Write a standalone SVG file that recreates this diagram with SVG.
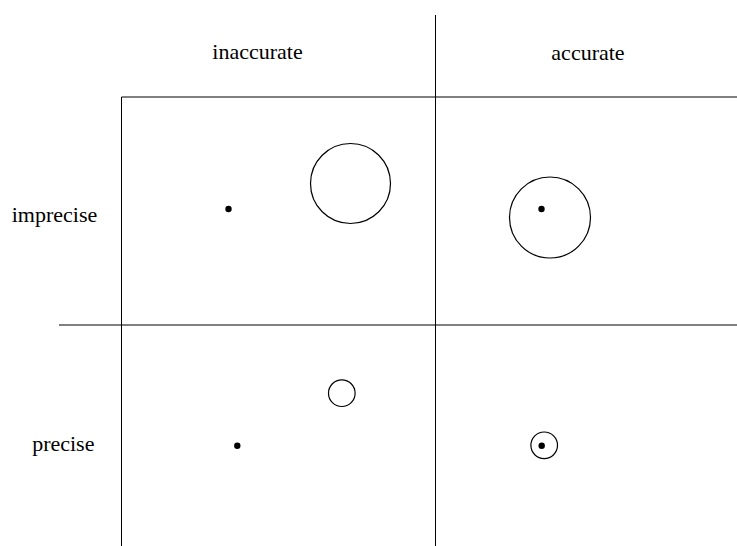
<svg xmlns="http://www.w3.org/2000/svg" width="737" height="546" viewBox="0 0 737 546">
<style>
.ln{stroke:#000;stroke-width:1;fill:none}
.ring{stroke:#000;stroke-width:1.2;fill:none}
.dot{fill:#000}
.lbl{font-family:"Liberation Serif","Times New Roman",serif;font-size:22px;fill:#000;text-anchor:middle}
</style>
<rect width="737" height="546" fill="#fff"/>
<g id="grid">
<line class="ln" x1="121.5" y1="97" x2="121.5" y2="546"/>
<line class="ln" x1="435.5" y1="15" x2="435.5" y2="546"/>
<line class="ln" x1="121.5" y1="97" x2="737" y2="97"/>
<line class="ln" x1="59" y1="325" x2="737" y2="325"/>
</g>
<g id="labels">
<text class="lbl" x="257.5" y="59">inaccurate</text>
<text class="lbl" x="588" y="60">accurate</text>
<text class="lbl" x="54.5" y="222">imprecise</text>
<text class="lbl" x="63.3" y="451">precise</text>
</g>
<g id="inaccurate-imprecise">
<circle class="dot" cx="228.5" cy="209" r="3.2"/>
<circle class="ring" cx="350.5" cy="183.5" r="40"/>
</g>
<g id="accurate-imprecise">
<circle class="dot" cx="541.5" cy="209" r="3.2"/>
<circle class="ring" cx="550" cy="217.5" r="40.5"/>
</g>
<g id="inaccurate-precise">
<circle class="dot" cx="237.3" cy="445.7" r="3.2"/>
<circle class="ring" cx="341.8" cy="393.2" r="13.3"/>
</g>
<g id="accurate-precise">
<circle class="dot" cx="541.7" cy="445.7" r="3.2"/>
<circle class="ring" cx="544.2" cy="445.3" r="13.3"/>
</g>
</svg>
